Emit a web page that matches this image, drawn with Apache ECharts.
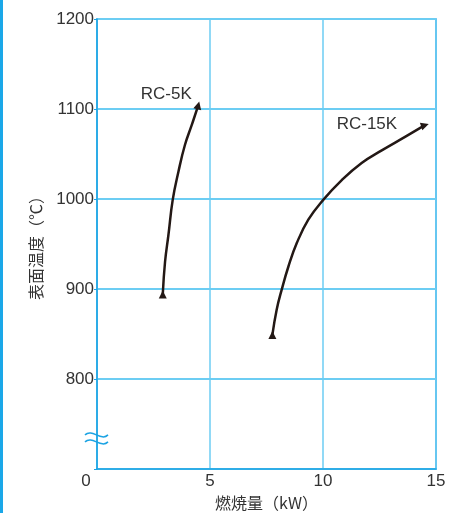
<!DOCTYPE html>
<html><head><meta charset="utf-8">
<script src="https://cdn.jsdelivr.net/npm/echarts@6/dist/echarts.min.js"></script>
<style>html,body{margin:0;padding:0;background:#fff}#c{width:470px;height:513px}</style>
</head><body><div id="c"></div>
<script>
const xTicks = [0, 5, 10, 15];
const yTickLabels = ['0', '800', '900', '1000', '1100', '1200'];
const rc5kX = [2.91, 3.01, 3.16, 3.35, 3.60, 3.89, 4.19, 4.48];
const rc5kY = [894, 930, 960, 999, 1030, 1060, 1082, 1104];
const rc15kX = [7.76, 7.95, 8.17, 8.47, 8.84, 9.35, 10.01, 10.83, 11.71, 12.6, 13.63, 14.51];
const rc15kY = [849, 877, 899, 925, 951, 977, 999, 1021, 1040, 1054, 1069, 1082];
const seriesNames = ['RC-5K', 'RC-15K'];

const BORDER = '#1ba3e3', GRID = '#6ccdf3', INK = '#231815', TXT = '#333333';
const FONT = '"Liberation Sans", Arial, sans-serif';
const CJK = '"Noto Sans CJK JP", sans-serif';

function build(xs, ys, name, rotEnd, offset) {
  return xs.map((x, i) => {
    const item = { value: [x, ys[i]] };
    const last = i === xs.length - 1;
    if (i === 0 || last) {
      item.symbol = 'triangle';
      item.symbolSize = [8, 8];
      item.symbolRotate = last ? rotEnd : 0;
    } else {
      item.symbol = 'none';
    }
    if (last) {
      item.label = { show: true, position: 'inside', offset: offset, formatter: name,
        color: TXT, fontSize: 17, fontFamily: FONT };
    }
    return item;
  });
}

const chart = echarts.init(document.getElementById('c'), null, { renderer: 'canvas' });
chart.setOption({
  animation: false,
  grid: { left: 97, right: 34, top: 19, bottom: 44, containLabel: false, outerBoundsMode: 'none',
    show: true, borderColor: BORDER, borderWidth: 1.5, backgroundColor: 'transparent' },
  xAxis: {
    type: 'value', min: 0, max: 15, interval: 5,
    name: '燃焼量（kW）', nameLocation: 'middle', nameGap: 21,
    nameTextStyle: { color: TXT, fontSize: 16, fontFamily: CJK },
    axisLine: { show: true, lineStyle: { color: BORDER, width: 1.5 } },
    axisTick: { show: false },
    splitLine: { show: true, lineStyle: { color: GRID, width: 1.5 } },
    axisLabel: { color: TXT, fontSize: 17, fontFamily: FONT, margin: 4,
      formatter: v => v === 0 ? '{z|' + xTicks[0] + '}' : String(v),
      rich: { z: { color: TXT, fontSize: 17, fontFamily: FONT, padding: [0, 22, 0, 0] } } }
  },
  yAxis: {
    type: 'value', min: 700, max: 1200, interval: 100,
    name: '表面温度（℃）', nameLocation: 'middle', nameGap: 53,
    nameTextStyle: { color: TXT, fontSize: 16, fontFamily: CJK },
    axisLine: { show: true, lineStyle: { color: BORDER, width: 1.5 } },
    axisTick: { show: true, length: 3, lineStyle: { color: BORDER } },
    splitLine: { show: true, lineStyle: { color: GRID, width: 2 } },
    axisLabel: { color: TXT, fontSize: 17, fontFamily: FONT, margin: 3,
      formatter: v => v === 700 ? '' : String(v) }
  },
  series: [
    { type: 'line', name: seriesNames[0], smooth: 0.45, data: build(rc5kX, rc5kY, seriesNames[0], -14, [-32, -11]),
      lineStyle: { color: INK, width: 2.5 }, itemStyle: { color: INK }, z: 5 },
    { type: 'line', name: seriesNames[1], smooth: 0.45, data: build(rc15kX, rc15kY, seriesNames[1], -72, [-58, -1]),
      lineStyle: { color: INK, width: 2.5 }, itemStyle: { color: INK }, z: 5 }
  ]
});

const p = chart.convertToPixel({ gridIndex: 0 }, [0, 734]);
const wave = (y) => ({ type: 'bezierCurve', shape: { x1: p[0] - 12, y1: y, cpx1: p[0] - 5, cpy1: y - 7, cpx2: p[0] + 4, cpy2: y + 7, x2: p[0] + 11, y2: y },
  style: { stroke: BORDER, lineWidth: 1.5, fill: null }, z: 10 });
chart.setOption({
  graphic: [
    { type: 'rect', shape: { x: 0, y: 0, width: 3, height: 513 }, style: { fill: '#1aa7e8' } },
    wave(p[1] - 3.5), wave(p[1] + 3.5)
  ]
});
</script></body></html>
